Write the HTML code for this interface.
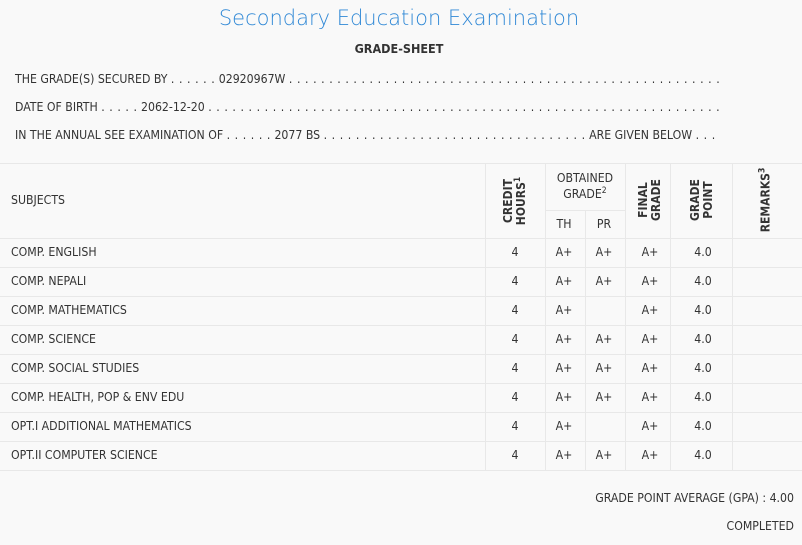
<!DOCTYPE html>
<html><head><style>
body{margin:0;width:802px;height:545px;background:#f9f9f9;font-family:"DejaVu Sans Condensed","Liberation Sans",sans-serif;color:#333;position:relative;overflow:hidden}
.t{position:absolute;font-size:12.2px;white-space:nowrap;line-height:14px}
.c{text-align:center;transform:translateX(-50%)}
.d{letter-spacing:0.55px}
.h{position:absolute;left:0;width:802px;height:1px;background:#e8e8e8}
.v{position:absolute;width:1px;background:#e8e8e8}
.r{position:absolute;font-size:12px;font-weight:bold;line-height:13px;text-align:center;transform:translate(-50%,-50%) rotate(-90deg);white-space:nowrap}
sup{font-size:8.5px;vertical-align:5px;line-height:0}
</style></head><body>
<div class="t c" style="left:399px;top:5px;font-size:21px;line-height:26px;color:#3189d6;font-family:'DejaVu Sans','Liberation Sans',sans-serif;font-weight:300">Secondary Education Examination</div>
<div class="t c" style="left:399px;top:42px;font-weight:bold;font-size:12.5px">GRADE-SHEET</div>
<div class="t" style="left:15px;top:72px">THE GRADE(S) SECURED BY <span class="d">. . . . . .</span> 02920967W <span class="d">. . . . . . . . . . . . . . . . . . . . . . . . . . . . . . . . . . . . . . . . . . . . . . . . . . . . . .</span></div>
<div class="t" style="left:15px;top:100px">DATE OF BIRTH <span class="d">. . . . .</span> 2062-12-20 <span class="d">. . . . . . . . . . . . . . . . . . . . . . . . . . . . . . . . . . . . . . . . . . . . . . . . . . . . . . . . . . . . . . . .</span></div>
<div class="t" style="left:15px;top:128px">IN THE ANNUAL SEE EXAMINATION OF <span class="d">. . . . . .</span> 2077 BS <span class="d">. . . . . . . . . . . . . . . . . . . . . . . . . . . . . . . . .</span> ARE GIVEN BELOW <span class="d">. . .</span></div>

<div class="h" style="top:163px"></div>
<div class="h" style="top:238px"></div>
<div class="h" style="top:267px"></div>
<div class="h" style="top:296px"></div>
<div class="h" style="top:325px"></div>
<div class="h" style="top:354px"></div>
<div class="h" style="top:383px"></div>
<div class="h" style="top:412px"></div>
<div class="h" style="top:441px"></div>
<div class="h" style="top:470px"></div>
<div class="h" style="top:210px;left:545px;width:80px"></div>
<div class="v" style="left:485px;top:163px;height:307px"></div>
<div class="v" style="left:545px;top:163px;height:307px"></div>
<div class="v" style="left:585px;top:210px;height:260px"></div>
<div class="v" style="left:625px;top:163px;height:307px"></div>
<div class="v" style="left:670px;top:163px;height:307px"></div>
<div class="v" style="left:732px;top:163px;height:307px"></div>

<div class="t" style="left:11px;top:193px">SUBJECTS</div>
<div class="r" style="left:515px;top:201px">CREDIT<br>HOURS<sup>1</sup></div>
<div class="t c" style="left:585px;top:170px;line-height:16px">OBTAINED<br>GRADE<sup>2</sup></div>
<div class="t c" style="left:564px;top:217px">TH</div>
<div class="t c" style="left:604px;top:217px">PR</div>
<div class="r" style="left:650px;top:200px">FINAL<br>GRADE</div>
<div class="r" style="left:702px;top:200px">GRADE<br>POINT</div>
<div class="r" style="left:766px;top:200px">REMARKS<sup>3</sup></div>

<div id="rows"></div>
<script>
var d=[["COMP. ENGLISH","A+","A+"],["COMP. NEPALI","A+","A+"],["COMP. MATHEMATICS","A+",""],["COMP. SCIENCE","A+","A+"],["COMP. SOCIAL STUDIES","A+","A+"],["COMP. HEALTH, POP &amp; ENV EDU","A+","A+"],["OPT.I ADDITIONAL MATHEMATICS","A+",""],["OPT.II COMPUTER SCIENCE","A+","A+"]];
var h="";d.forEach(function(r,i){var y=245+i*29;
h+='<div class="t" style="left:11px;top:'+y+'px">'+r[0]+'</div>'+
'<div class="t c" style="left:515px;top:'+y+'px">4</div>'+
'<div class="t c" style="left:564px;top:'+y+'px">'+r[1]+'</div>'+
'<div class="t c" style="left:604px;top:'+y+'px">'+r[2]+'</div>'+
'<div class="t c" style="left:650px;top:'+y+'px">A+</div>'+
'<div class="t c" style="left:703px;top:'+y+'px">4.0</div>';});
document.getElementById("rows").innerHTML=h;
</script>
<div class="t" style="right:8px;top:491px">GRADE POINT AVERAGE (GPA) : 4.00</div>
<div class="t" style="right:8px;top:519px">COMPLETED</div>
</body></html>
